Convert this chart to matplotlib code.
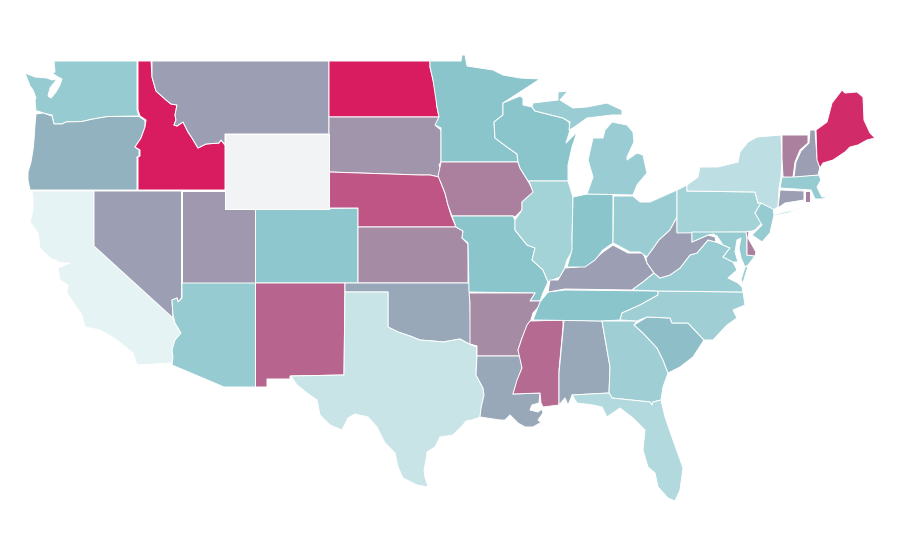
import numpy as np
import matplotlib
matplotlib.use("Agg")
import matplotlib.pyplot as plt
from matplotlib.collections import PatchCollection
from matplotlib.colors import LinearSegmentedColormap
from matplotlib.patches import Polygon

states = ["WA","OR","CA","NV","ID","MT","UT","AZ","CO","NM","ND","SD","NE","KS","OK","TX",
          "MN","IA","MO","AR","LA","WI","IL","MS","AL","TN","KY","IN","MI","OH","GA","FL","SC","NC",
          "VA","WV","PA","NY","MD","DE","NJ","CT","RI","MA","VT","NH","ME","WY"]
values = [35,45,0,50,100,50,53,35,38,72,100,54,78,58,48,13,
          40,62,40,58,48,40,29,70,48,40,50,40,33,33,31,23,42,31,
          33,50,29,18,35,62,35,50,62,35,62,50,94,np.nan]

shapes = {
"WA":[[(54,61),(137,61),(137,110),(139,116),(108,116.5),(93,119),(82,121.5),(66,122),(62,124),(54,124),(52,115),(43,113),(38,111),(36,111),(35,100),(36,98),(33,90),(30,86),(27,78),(25,73),(35,77),(47,78),(52,80),(57,79),(50,88),(48,96),(51,98),(56,92),(60,85),(62,79),(58,77),(52,73),(55,72)]],
"OR":[[(36,114),(43,113),(52,116),(54,124),(62,124),(66,122),(82,121.5),(93,119),(108,116.5),(139,116.5),(145,120.5),(145,127),(141,138),(135,147),(139,150),(139,156),(137,157),(137,190),(30,190),(28,180),(28,172),(31,162),(33,150),(34,140),(35,125)]],
"ID":[[(138,61),(151,61),(152,77),(156,91),(166,100),(171,104),(177,105),(175,115),(176,120),(174,125),(177,126),(183,122),(188,132),(192,138),(198,148),(206,144),(219,143),(221,140),(225,145),(225,190),(138,190),(138,157),(140,156),(140,150),(135,147),(141,138),(145,127),(146,120),(140,116),(138,110)]],
"MT":[[(152,61),(329,61),(329,134),(225,134),(225,145),(221,140),(219,143),(206,144),(198,148),(192,138),(188,132),(183,122),(177,126),(174,125),(176,120),(175,115),(177,105),(171,104),(166,100),(156,91),(152,77)]],
"WY":[[(225,134),(329,134),(329,209),(225,209)]],
"ND":[[(329,61),(430,61),(430,67),(433,80),(436,93),(437,107),(439,117),(329,117)]],
"SD":[[(329,117),(439,117),(439,122),(436,126),(441,130),(441,162),(439,165),(441,170),(439,177),(430,175),(420,175),(329,172)]],
"NE":[[(329,172),(420,175),(430,175),(439,177),(441,183),(445,193),(448,205),(451,215),(456,227),(358,227),(358,208),(329,208)]],
"KS":[[(358,227),(456,227),(463,231),(462,238),(468,244),(468,283),(358,283)]],
"OK":[[(345,283),(469,283),(470,303),(471,345),(460,339),(443,342),(433,341),(420,340),(410,336),(398,332),(388,327),(388,292),(345,292)]],
"TX":[[(345,292),(388,292),(388,327),(398,332),(410,336),(420,340),(433,341),(443,342),(460,339),(471,345),(477,347),(476,375),(483,388),(484,395),(481,408),(480,417),(472,420),(466,421),(463,425),(453,435),(440,437),(435,447),(427,452),(426,460),(424,470),(425,477),(428,487),(417,485),(403,478),(398,467),(395,453),(385,443),(377,427),(368,417),(355,414),(348,418),(342,430),(330,425),(320,415),(317,400),(307,393),(297,385),(291,376),(344,375)]],
"NM":[[(255.5,283),(345,283),(344,375),(290,376),(290,379),(267,379),(267,387),(255.5,387)]],
"AZ":[[(182,283),(255.5,283),(255.5,387),(224,387),(172,365),(173,357),(172,350),(175,340),(181,333),(175,323),(173,315),(172,300),(177,298),(178,302),(182,298)]],
"NV":[[(94,191),(181.5,191),(181.5,298),(178,302),(177,298),(172,300),(173,318),(94,246)]],
"CA":[[(32,191),(94,191),(94,246),(173,318),(175,323),(181,333),(175,340),(172,350),(173,357),(172,363),(137,365),(133,353),(117,340),(100,330),(85,327),(82,315),(67,293),(68,285),(60,280),(58,268),(63,266),(70,263),(64,263),(58,262),(57,261),(50,258),(40,248),(38,233),(30,222),(33,210),(33,197)]],
"UT":[[(181.5,191),(225,191),(225,209),(255.5,209),(255.5,283),(181.5,283)]],
"CO":[[(255.5,209),(358,208),(358,283),(255.5,283)]],
"MN":[[(430,61),(461,61),(462,55),(465,55),(467,66),(480,68),(493,70),(503,75),(520,78),(540,79),(520,92),(503,103),(503,115),(494,122),(495,138),(507,147),(517,154),(518,162),(441,162),(441,128),(435,125),(439,117),(437,107),(433,80),(430,67)]],
"WI":[[(503,103),(520,96),(523,98),(523,105),(532,107),(535,111),(563,118),(569,122),(570,130),(566,143),(577,132),(572,147),(568,165),(568,181),(528,181),(520,168),(518,162),(517,154),(507,147),(495,138),(494,122),(503,115)]],
"MI":[[(532,107),(533,103),(558,100),(558,92),(568,91),(560,100),(573,108),(587,107),(607,103),(622,110),(622,115),(612,115),(587,118),(573,128),(569,130),(570,122),(563,118),(535,111)],
      [(612,122),(627,125),(633,132),(634,142),(627,157),(627,160),(637,153),(643,155),(647,173),(637,185),(633,195),(587,194),(593,177),(588,160),(593,138),(603,138),(605,130)]],
"OH":[[(613.5,196),(633,196),(640,202),(650,202),(677,190),(677,217),(670,230),(659,240),(652,250),(647,257),(640,252),(630,252),(617,245),(613,243)]],
"IN":[[(573,197),(587,194),(613,194),(613,243),(603,250),(595,260),(585,267),(567,267),(572,250),(572,240)]],
"IL":[[(529,181),(568,181),(573,197),(572,240),(573,250),(567,260),(564,270),(560,277),(548,282),(543,270),(532,260),(535,248),(527,245),(515,230),(515,220),(522,210),(522,202),(533,192)]],
"IA":[[(441,162),(518,162),(520,168),(528,181),(534,192),(522,202),(522,210),(515,217),(513,216),(452,216),(448,205),(445,193),(441,183),(438,176),(440,167)]],
"MO":[[(452,216),(513,216),(515,220),(515,230),(527,245),(535,248),(532,260),(543,270),(548,282),(543,293),(540,301),(530,301),(535,293),(469,292),(468,243),(462,238),(463,231),(456,227)]],
"AR":[[(469,293),(535,293),(530,301),(540,301),(542,303),(533,313),(530,323),(522,338),(518,350),(520,356),(477,356),(477,346),(470,344),(470,303)]],
"LA":[[(477,356),(520,356),(522,368),(513,394),(540,393),(539,403),(532,405),(530,410),(538,412),(542,409),(543,413),(538,420),(549,429),(540,423),(533,427),(525,427),(518,423),(510,415),(505,420),(500,420),(480,417),(481,408),(484,395),(483,388),(476,375)]],
"MS":[[(530,321),(563,320),(563,327),(559,370),(559,405),(543,407),(541,403),(540,393),(513,394),(517,380),(522,368),(518,350),(522,338),(527,325)]],
"AL":[[(564,320),(602,321),(610,367),(609,393),(572,395),(571,398),(568,405),(565,398),(559,405),(559,373)]],
"GA":[[(602,321),(637,321),(634,325),(643,333),(657,348),(663,360),(668,373),(663,387),(661,400),(653,402),(652,405),(650,402),(612,398),(609,393),(610,367)]],
"SC":[[(634,325),(647,317),(670,318),(672,323),(688,323),(704,340),(693,357),(680,367),(668,373),(663,360),(657,348),(643,333)]],
"FL":[[(572,395),(609,393),(612,398),(650,402),(652,405),(653,402),(661,400),(665,417),(673,440),(683,468),(680,490),(675,501),(668,498),(658,487),(655,473),(648,467),(643,450),(645,430),(633,418),(620,408),(607,417),(602,407),(593,405),(577,403)]],
"NC":[[(658,291),(743,292),(745,305),(733,310),(737,318),(727,325),(713,340),(704,340),(688,323),(672,323),(670,318),(647,317),(637,321),(620,320),(622,313),(640,305),(658,295)]],
"TN":[[(540,302),(548,292),(565,290),(658,291),(658,295),(640,305),(622,313),(620,320),(602,321),(533,320)]],
"KY":[[(548,292),(550,280),(558,280),(565,268),(578,267),(590,263),(603,252),(613,245),(628,253),(643,253),(647,263),(654,273),(643,282),(632,290),(565,289)]],
"WV":[[(677,217),(677,232),(692,232),(692,242),(708,235),(715,237),(716,242),(708,240),(697,253),(690,255),(680,268),(670,275),(660,278),(654,273),(647,263),(646,258),(652,250),(659,240),(670,230)]],
"VA":[[(632,290),(643,282),(654,273),(660,278),(670,275),(680,268),(690,255),(697,253),(708,240),(716,242),(723,245),(730,248),(723,257),(733,262),(737,270),(728,278),(738,283),(742,287),(743,292),(658,291)],
      [(745,267),(748,266),(743,283),(741,280)]],
"MD":[[(692,232),(746,232),(747,238),(747,255),(755,256),(748,265),(745,267),(741,258),(739,248),(741,238),(737,240),(735,252),(738,262),(733,262),(723,257),(730,248),(723,245),(717,236),(713,234),(708,235),(692,242)]],
"DE":[[(746,232),(749,231),(748,238),(756,252),(755,256),(747,255),(747,238)]],
"PA":[[(677,190),(687,185),(687,191),(755,192),(758,203),(761,203),(755,213),(762,223),(755,230),(748,232),(677,233)]],
"NY":[[(687,185),(687,191),(755,192),(758,203),(761,203),(773,210),(778,207),(779,188),(781,177),(782,158),(781,135),(757,137),(748,142),(740,152),(738,162),(718,167),(700,167),(698,177)],
      [(772,215),(801,208),(788,213),(773,216)]],
"NJ":[[(761,203),(773,209),(774,215),(770,233),(762,242),(752,235),(762,225),(755,213)]],
"CT":[[(780,190),(804,191),(804,200),(785,203),(778,208)]],
"RI":[[(805,191),(810,191),(810,202),(805,202)]],
"MA":[[(782,177),(819,175),(821,180),(817,187),(822,197),(830,196),(822,199),(815,199),(811,190),(780,188)]],
"VT":[[(782,135),(808,135),(808,143),(800,150),(795,162),(793,177),(783,177),(782,158)]],
"NH":[[(810,130),(815,130),(817,158),(820,167),(818,175),(794,177),(796,162),(801,151),(809,143)]],
"ME":[[(816,130),(827,122),(832,103),(842,90),(845,93),(857,92),(863,97),(864,120),(870,133),(875,138),(867,140),(858,145),(850,147),(845,152),(833,160),(823,163),(820,168),(817,160)]],
}

cmap = LinearSegmentedColormap.from_list("map", [(0.0,"#e6f3f4"),(0.40,"#8ac5cc"),(0.50,"#9ca0b3"),(1.0,"#d91b5f")])
cmap.set_bad("#f2f3f5")

fig = plt.figure(figsize=(9,5.6), dpi=100, facecolor="white")
ax = fig.add_axes([0,0,1,1])
ax.set_xlim(0,900); ax.set_ylim(560,0); ax.axis("off")

patches, vals = [], []
for s, v in zip(states, values):
    for ring in shapes[s]:
        patches.append(Polygon(ring, closed=True))
        vals.append(v)
coll = PatchCollection(patches, cmap=cmap, edgecolor="white", linewidth=0.7)
coll.set_array(np.ma.masked_invalid(vals))
coll.set_clim(0,100)
ax.add_collection(coll)
fig.savefig("out.png", dpi=100)
